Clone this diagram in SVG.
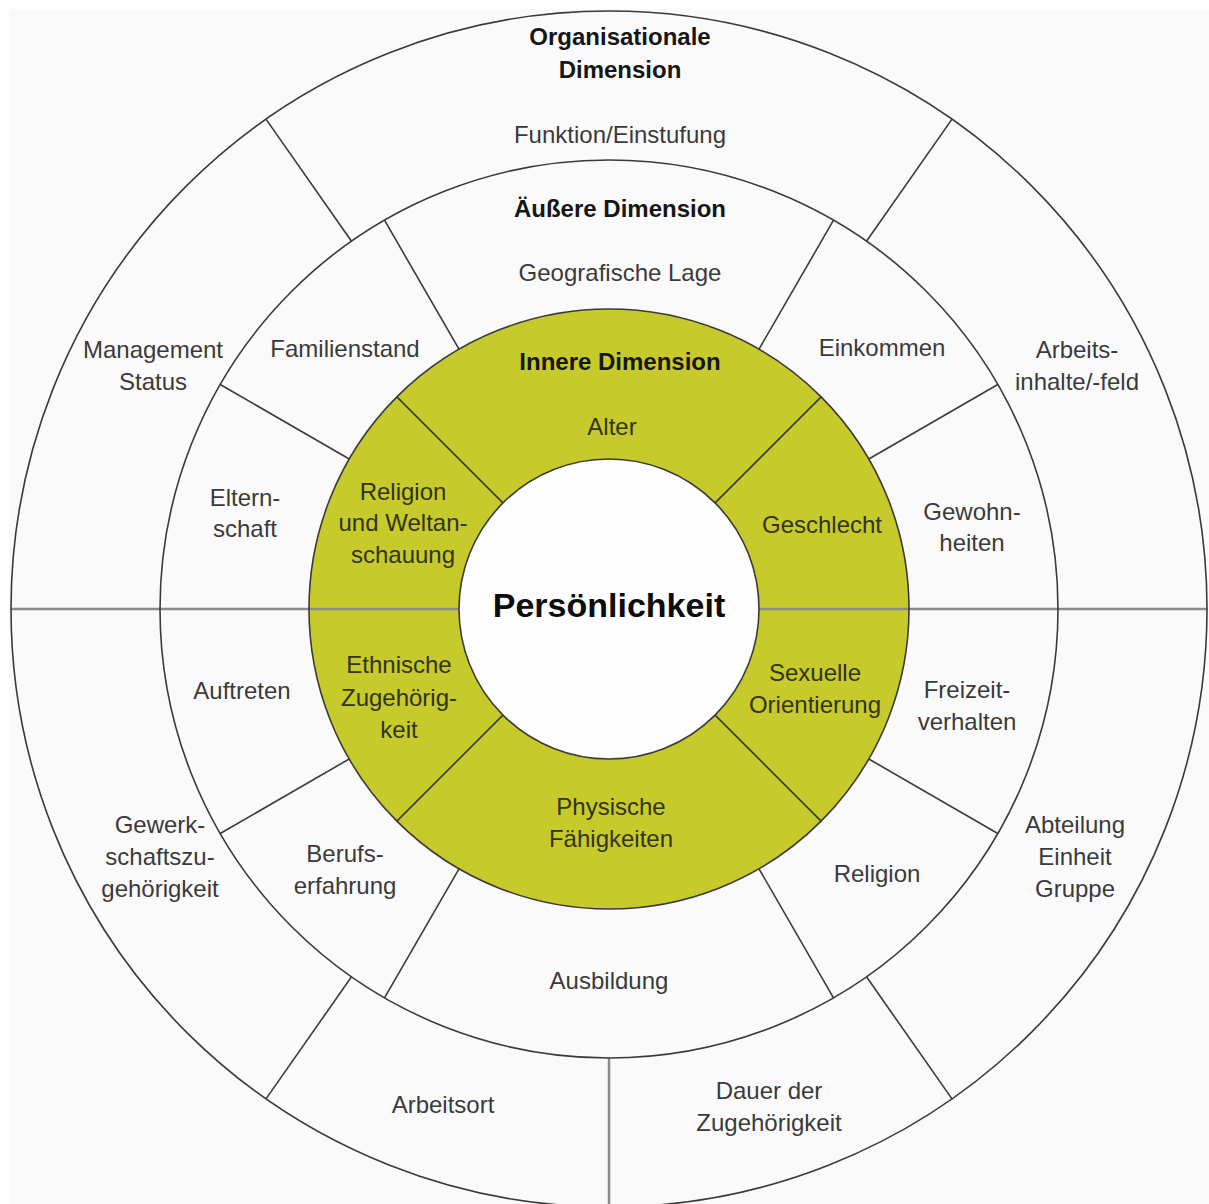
<svg xmlns="http://www.w3.org/2000/svg" width="1209" height="1204" viewBox="0 0 1209 1204">
<style>
.seg{fill:none;stroke:none}
.gseg{fill:#c6ca2b;stroke:none}
.t{font-family:"Liberation Sans",Arial,sans-serif;font-size:24px;fill:#3a3a3a;text-anchor:middle}
.b{font-weight:bold;fill:#161616}
.gt{fill:#33331a}
.ring{fill:none;stroke:#3a3a3a;stroke-width:1.6}
.div{stroke:#3a3a3a;stroke-width:1.6}
.axis{stroke:#8a8a8a;stroke-width:2.5}
</style>
<rect width="1209" height="1204" fill="#ffffff"/>
<rect x="9" y="9" width="1200" height="1195" fill="#fafafa"/>

<!-- outer ring: organisational dimension -->
<g id="funktion"><path class="seg" d="M952,119.1 A598,598 0 0 0 266,119.1 L351.5,241.2 A449,449 0 0 1 866.5,241.2 Z"/>
<text class="t b" x="620" y="45">Organisationale</text><text class="t b" x="620" y="78">Dimension</text>
<text class="t" x="620" y="143">Funktion/Einstufung</text></g>
<g id="arbeitsinhalte"><path class="seg" d="M1207,609 A598,598 0 0 0 952,119.1 L866.5,241.2 A449,449 0 0 1 1058,609 Z"/>
<text class="t" x="1077" y="358">Arbeits-</text><text class="t" x="1077" y="390">inhalte/-feld</text></g>
<g id="management"><path class="seg" d="M266,119.1 A598,598 0 0 0 11,609 L160,609 A449,449 0 0 1 351.5,241.2 Z"/>
<text class="t" x="153" y="358">Management</text><text class="t" x="153" y="390">Status</text></g>
<g id="gewerkschaft"><path class="seg" d="M11,609 A598,598 0 0 0 266,1098.9 L351.5,976.8 A449,449 0 0 1 160,609 Z"/>
<text class="t" x="160" y="833">Gewerk-</text><text class="t" x="160" y="865">schaftszu-</text><text class="t" x="160" y="897">gehörigkeit</text></g>
<g id="arbeitsort"><path class="seg" d="M266,1098.9 A598,598 0 0 0 609,1207 L609,1058 A449,449 0 0 1 351.5,976.8 Z"/>
<text class="t" x="443" y="1113">Arbeitsort</text></g>
<g id="dauer"><path class="seg" d="M609,1207 A598,598 0 0 0 952,1098.9 L866.5,976.8 A449,449 0 0 1 609,1058 Z"/>
<text class="t" x="769" y="1099">Dauer der</text><text class="t" x="769" y="1131">Zugehörigkeit</text></g>
<g id="abteilung"><path class="seg" d="M952,1098.9 A598,598 0 0 0 1207,609 L1058,609 A449,449 0 0 1 866.5,976.8 Z"/>
<text class="t" x="1075" y="833">Abteilung</text><text class="t" x="1075" y="865">Einheit</text><text class="t" x="1075" y="897">Gruppe</text></g>

<!-- middle ring: external dimension -->
<g id="geografie"><path class="seg" d="M833.5,220.2 A449,449 0 0 0 384.5,220.2 L459,349.2 A300,300 0 0 1 759,349.2 Z"/>
<text class="t b" x="620" y="217">Äußere Dimension</text>
<text class="t" x="620" y="281">Geografische Lage</text></g>
<g id="einkommen"><path class="seg" d="M997.8,384.5 A449,449 0 0 0 833.5,220.2 L759,349.2 A300,300 0 0 1 868.8,459 Z"/>
<text class="t" x="882" y="356">Einkommen</text></g>
<g id="gewohnheiten"><path class="seg" d="M1058,609 A449,449 0 0 0 997.8,384.5 L868.8,459 A300,300 0 0 1 909,609 Z"/>
<text class="t" x="972" y="520">Gewohn-</text><text class="t" x="972" y="551">heiten</text></g>
<g id="freizeit"><path class="seg" d="M997.8,833.5 A449,449 0 0 0 1058,609 L909,609 A300,300 0 0 1 868.8,759 Z"/>
<text class="t" x="967" y="698">Freizeit-</text><text class="t" x="967" y="730">verhalten</text></g>
<g id="religion-aussen"><path class="seg" d="M833.5,997.8 A449,449 0 0 0 997.8,833.5 L868.8,759 A300,300 0 0 1 759,868.8 Z"/>
<text class="t" x="877" y="882">Religion</text></g>
<g id="ausbildung"><path class="seg" d="M384.5,997.8 A449,449 0 0 0 833.5,997.8 L759,868.8 A300,300 0 0 1 459,868.8 Z"/>
<text class="t" x="609" y="989">Ausbildung</text></g>
<g id="berufserfahrung"><path class="seg" d="M220.2,833.5 A449,449 0 0 0 384.5,997.8 L459,868.8 A300,300 0 0 1 349.2,759 Z"/>
<text class="t" x="345" y="862">Berufs-</text><text class="t" x="345" y="894">erfahrung</text></g>
<g id="auftreten"><path class="seg" d="M160,609 A449,449 0 0 0 220.2,833.5 L349.2,759 A300,300 0 0 1 309,609 Z"/>
<text class="t" x="242" y="699">Auftreten</text></g>
<g id="elternschaft"><path class="seg" d="M220.2,384.5 A449,449 0 0 0 160,609 L309,609 A300,300 0 0 1 349.2,459 Z"/>
<text class="t" x="245" y="506">Eltern-</text><text class="t" x="245" y="537">schaft</text></g>
<g id="familienstand"><path class="seg" d="M384.5,220.2 A449,449 0 0 0 220.2,384.5 L349.2,459 A300,300 0 0 1 459,349.2 Z"/>
<text class="t" x="345" y="357">Familienstand</text></g>

<!-- inner ring: internal dimension -->
<g id="alter"><path class="gseg" d="M821.1,396.9 A300,300 0 0 0 396.9,396.9 L502.9,502.9 A150,150 0 0 1 715.1,502.9 Z"/>
<text class="t b" x="620" y="370">Innere Dimension</text>
<text class="t gt" x="612" y="435">Alter</text></g>
<g id="geschlecht"><path class="gseg" d="M909,609 A300,300 0 0 0 821.1,396.9 L715.1,502.9 A150,150 0 0 1 759,609 Z"/>
<text class="t gt" x="822" y="533">Geschlecht</text></g>
<g id="religion-weltanschauung"><path class="gseg" d="M396.9,396.9 A300,300 0 0 0 309,609 L459,609 A150,150 0 0 1 502.9,502.9 Z"/>
<text class="t gt" x="403" y="500">Religion</text><text class="t gt" x="403" y="531">und Weltan-</text><text class="t gt" x="403" y="563">schauung</text></g>
<g id="ethnische"><path class="gseg" d="M309,609 A300,300 0 0 0 396.9,821.1 L502.9,715.1 A150,150 0 0 1 459,609 Z"/>
<text class="t gt" x="399" y="673">Ethnische</text><text class="t gt" x="399" y="706">Zugehörig-</text><text class="t gt" x="399" y="738">keit</text></g>
<g id="physische"><path class="gseg" d="M396.9,821.1 A300,300 0 0 0 821.1,821.1 L715.1,715.1 A150,150 0 0 1 502.9,715.1 Z"/>
<text class="t gt" x="611" y="815">Physische</text><text class="t gt" x="611" y="847">Fähigkeiten</text></g>
<g id="sexuelle"><path class="gseg" d="M821.1,821.1 A300,300 0 0 0 909,609 L759,609 A150,150 0 0 1 715.1,715.1 Z"/>
<text class="t gt" x="815" y="681">Sexuelle</text><text class="t gt" x="815" y="713">Orientierung</text></g>

<!-- centre -->
<g id="persoenlichkeit"><circle cx="609" cy="609" r="150" fill="#fdfdfd"/>
<text class="t b" x="609" y="617" style="font-size:34px;fill:#0d0d0d">Persönlichkeit</text></g>

<g id="connectors">
<line class="axis" x1="11" y1="609" x2="459" y2="609"/>
<line class="axis" x1="759" y1="609" x2="1207" y2="609"/>
<line class="axis" x1="609" y1="1058" x2="609" y2="1204"/>
<circle class="ring" cx="609" cy="609" r="598"/>
<circle class="ring" cx="609" cy="609" r="449"/>
<circle class="ring" cx="609" cy="609" r="300"/>
<circle class="ring" cx="609" cy="609" r="150"/>
<line class="div" x1="952" y1="119.1" x2="866.5" y2="241.2"/>
<line class="div" x1="266" y1="119.1" x2="351.5" y2="241.2"/>
<line class="div" x1="266" y1="1098.9" x2="351.5" y2="976.8"/>
<line class="div" x1="952" y1="1098.9" x2="866.5" y2="976.8"/>
<line class="div" x1="997.8" y1="384.5" x2="868.8" y2="459"/>
<line class="div" x1="833.5" y1="220.2" x2="759" y2="349.2"/>
<line class="div" x1="384.5" y1="220.2" x2="459" y2="349.2"/>
<line class="div" x1="220.2" y1="384.5" x2="349.2" y2="459"/>
<line class="div" x1="220.2" y1="833.5" x2="349.2" y2="759"/>
<line class="div" x1="384.5" y1="997.8" x2="459" y2="868.8"/>
<line class="div" x1="833.5" y1="997.8" x2="759" y2="868.8"/>
<line class="div" x1="997.8" y1="833.5" x2="868.8" y2="759"/>
<line class="div" x1="821.1" y1="396.9" x2="715.1" y2="502.9"/>
<line class="div" x1="396.9" y1="396.9" x2="502.9" y2="502.9"/>
<line class="div" x1="396.9" y1="821.1" x2="502.9" y2="715.1"/>
<line class="div" x1="821.1" y1="821.1" x2="715.1" y2="715.1"/>
</g>
</svg>
